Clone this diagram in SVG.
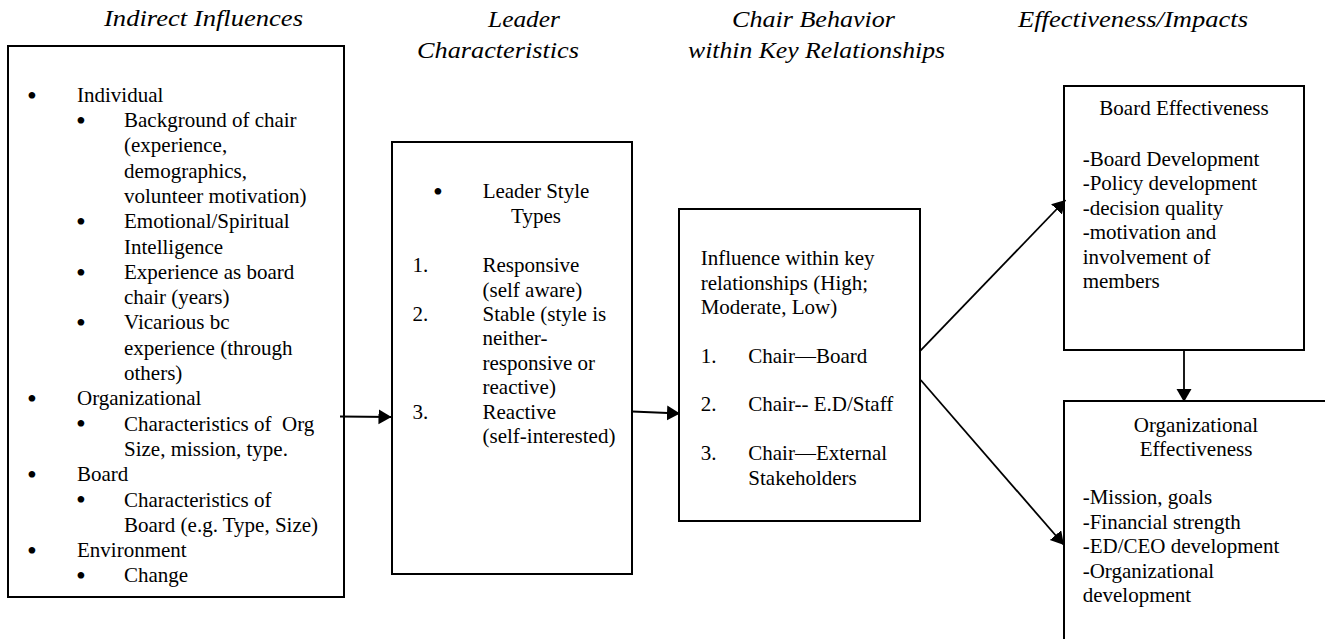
<svg xmlns="http://www.w3.org/2000/svg" width="1325" height="639" viewBox="0 0 1325 639">
<style>
text{font-family:"Liberation Serif","Times New Roman",serif;fill:#000}
.h{font-style:italic;font-size:22.5px}
.b{font-size:21px}
.c{text-anchor:middle}
.bu{font-size:28px;text-anchor:middle}
.box{fill:#fff;stroke:#000;stroke-width:2}
.con{stroke:#000;stroke-width:1.8;fill:none}
</style>
<defs>
<marker id="ah" markerUnits="userSpaceOnUse" markerWidth="14" markerHeight="16" refX="13" refY="7.5" orient="auto">
<path d="M0,0 L13,7.5 L0,15 Z" fill="#000"/>
</marker>
</defs>
<rect width="1325" height="639" fill="#fff"/>

<g id="headers">
<text class="h" x="104" y="26" textLength="199" lengthAdjust="spacingAndGlyphs">Indirect Influences</text>
<text class="h" x="488" y="27" textLength="72" lengthAdjust="spacingAndGlyphs">Leader</text>
<text class="h" x="417" y="58" textLength="162" lengthAdjust="spacingAndGlyphs">Characteristics</text>
<text class="h" x="732" y="27" textLength="163" lengthAdjust="spacingAndGlyphs">Chair Behavior</text>
<text class="h" x="688" y="57.5" textLength="257" lengthAdjust="spacingAndGlyphs">within Key Relationships</text>
<text class="h" x="1018" y="27" textLength="230" lengthAdjust="spacingAndGlyphs">Effectiveness/Impacts</text>
</g>

<g id="indirect">
<rect class="box" x="8" y="46" width="336" height="551"/>
<g class="b">
<text x="32" y="104.5" class="bu">•</text><text x="77" y="101.7">Individual</text>
<text x="81" y="129.8" class="bu">•</text><text x="124" y="127">Background of chair</text>
<text x="124" y="152.3">(experience,</text>
<text x="124" y="177.6">demographics,</text>
<text x="124" y="202.9">volunteer motivation)</text>
<text x="81" y="231" class="bu">•</text><text x="124" y="228.2">Emotional/Spiritual</text>
<text x="124" y="253.5">Intelligence</text>
<text x="81" y="281.6" class="bu">•</text><text x="124" y="278.8">Experience as board</text>
<text x="124" y="304.1">chair (years)</text>
<text x="81" y="332.2" class="bu">•</text><text x="124" y="329.4">Vicarious bc</text>
<text x="124" y="354.7">experience (through</text>
<text x="124" y="380">others)</text>
<text x="32" y="408.1" class="bu">•</text><text x="77" y="405.3">Organizational</text>
<text x="81" y="433.4" class="bu">•</text><text x="124" y="430.6" xml:space="preserve">Characteristics of  Org</text>
<text x="124" y="455.9">Size, mission, type.</text>
<text x="32" y="484" class="bu">•</text><text x="77" y="481.2">Board</text>
<text x="81" y="509.3" class="bu">•</text><text x="124" y="506.5">Characteristics of</text>
<text x="124" y="531.8">Board (e.g. Type, Size)</text>
<text x="32" y="559.9" class="bu">•</text><text x="77" y="557.1">Environment</text>
<text x="81" y="585.2" class="bu">•</text><text x="124" y="582.4">Change</text>
</g>
</g>

<g id="leader">
<rect class="box" x="392" y="142" width="240" height="432"/>
<g class="b">
<text x="438" y="201.1" class="bu">•</text>
<text x="536" y="198.3" class="c">Leader Style</text>
<text x="536" y="223" class="c">Types</text>
<text x="412.5" y="272">1.</text><text x="482.5" y="272">Responsive</text>
<text x="482.5" y="296.5">(self aware)</text>
<text x="412.5" y="321">2.</text><text x="482.5" y="321">Stable (style is</text>
<text x="482.5" y="345.3">neither-</text>
<text x="482.5" y="369.7">responsive or</text>
<text x="482.5" y="394">reactive)</text>
<text x="412.5" y="418.5">3.</text><text x="482.5" y="418.5">Reactive</text>
<text x="482.5" y="443">(self-interested)</text>
</g>
</g>

<g id="chair">
<rect class="box" x="679" y="209" width="241" height="312"/>
<g class="b">
<text x="700.7" y="265">Influence within key</text>
<text x="700.7" y="289.5">relationships (High;</text>
<text x="700.7" y="314">Moderate, Low)</text>
<text x="700.7" y="362.7">1.</text><text x="748.3" y="362.7">Chair—Board</text>
<text x="700.7" y="410.7">2.</text><text x="748.3" y="410.7">Chair-- E.D/Staff</text>
<text x="700.7" y="460">3.</text><text x="748.3" y="460">Chair—External</text>
<text x="748.3" y="484.5">Stakeholders</text>
</g>
</g>

<g id="board">
<rect class="box" x="1064" y="86" width="240" height="264"/>
<g class="b">
<text x="1184" y="115" class="c">Board Effectiveness</text>
<text x="1082.7" y="165.7">-Board Development</text>
<text x="1082.7" y="190.2">-Policy development</text>
<text x="1082.7" y="214.7">-decision quality</text>
<text x="1082.7" y="239.2">-motivation and</text>
<text x="1082.7" y="263.7">involvement of</text>
<text x="1082.7" y="288.2">members</text>
</g>
</g>

<g id="org">
<rect class="box" x="1064" y="401" width="266" height="260"/>
<g class="b">
<text x="1196" y="431.7" class="c">Organizational</text>
<text x="1196" y="456" class="c">Effectiveness</text>
<text x="1082.7" y="504">-Mission, goals</text>
<text x="1082.7" y="528.5">-Financial strength</text>
<text x="1082.7" y="553">-ED/CEO development</text>
<text x="1082.7" y="577.5">-Organizational</text>
<text x="1082.7" y="602">development</text>
</g>
</g>

<g id="connectors">
<line class="con" x1="340" y1="416.5" x2="391.5" y2="417" marker-end="url(#ah)"/>
<line class="con" x1="632" y1="411.5" x2="680" y2="413.5" marker-end="url(#ah)"/>
<line class="con" x1="919.5" y1="351.7" x2="1065.5" y2="200" marker-end="url(#ah)"/>
<line class="con" x1="920.7" y1="380" x2="1064" y2="545" marker-end="url(#ah)"/>
<line class="con" x1="1184" y1="350" x2="1184" y2="402" marker-end="url(#ah)"/>
</g>
</svg>
